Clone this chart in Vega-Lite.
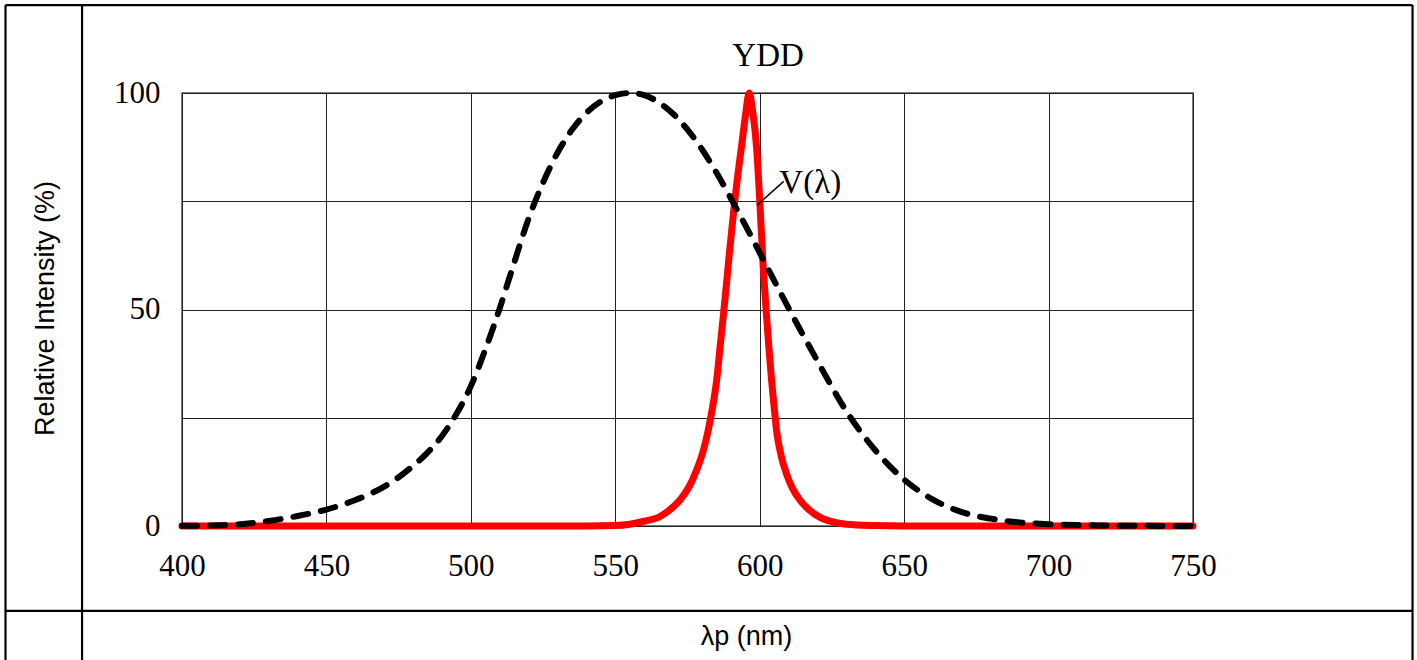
{
  "$schema": "https://vega.github.io/schema/vega-lite/v6.json",
  "autosize": {"type": "none"},
  "width": 1011,
  "height": 433,
  "padding": {"left": 182, "top": 93, "right": 224, "bottom": 134},
  "background": "white",
  "config": {
    "view": {"stroke": "#555555", "strokeWidth": 1.5},
    "axis": {"grid": true, "gridColor": "#222222", "gridOpacity": 1, "gridWidth": 1, "domain": false, "ticks": false, "tickSize": 0}
  },
  "datasets": {
    "led": [
      {"wl": 400, "value": 0}, {"wl": 450, "value": 0}, {"wl": 500, "value": 0}, {"wl": 540, "value": 0},
      {"wl": 550, "value": 0.1}, {"wl": 555, "value": 0.4}, {"wl": 560, "value": 1.1}, {"wl": 565.5, "value": 2.2},
      {"wl": 569, "value": 3.8}, {"wl": 572.4, "value": 6}, {"wl": 575.5, "value": 9}, {"wl": 578.2, "value": 13},
      {"wl": 580.3, "value": 17}, {"wl": 582.2, "value": 22.2}, {"wl": 583.7, "value": 27.5}, {"wl": 585.1, "value": 33.7},
      {"wl": 586.3, "value": 41.5}, {"wl": 587.4, "value": 48.5}, {"wl": 588.5, "value": 56}, {"wl": 589.5, "value": 63},
      {"wl": 590.5, "value": 69.5}, {"wl": 591.4, "value": 75.3}, {"wl": 592.5, "value": 81.5}, {"wl": 593.7, "value": 87.6},
      {"wl": 595, "value": 94.5}, {"wl": 596.4, "value": 100}, {"wl": 597.5, "value": 96}, {"wl": 598.9, "value": 87.6},
      {"wl": 600, "value": 75.3}, {"wl": 601.2, "value": 60}, {"wl": 602.3, "value": 49}, {"wl": 603.2, "value": 41},
      {"wl": 604.1, "value": 33.7}, {"wl": 605, "value": 27.5}, {"wl": 605.8, "value": 22.2}, {"wl": 607.5, "value": 16},
      {"wl": 609.3, "value": 12}, {"wl": 611.5, "value": 8.5}, {"wl": 613.9, "value": 6}, {"wl": 617, "value": 3.8},
      {"wl": 620.9, "value": 2}, {"wl": 625, "value": 1}, {"wl": 630, "value": 0.4}, {"wl": 640, "value": 0.1},
      {"wl": 650, "value": 0}, {"wl": 700, "value": 0}, {"wl": 750, "value": 0}
    ],
    "vlambda": [
      {"wl": 400, "value": 0.04}, {"wl": 405, "value": 0.06}, {"wl": 410, "value": 0.12}, {"wl": 415, "value": 0.22},
      {"wl": 420, "value": 0.4}, {"wl": 425, "value": 0.73}, {"wl": 430, "value": 1.16}, {"wl": 435, "value": 1.68},
      {"wl": 440, "value": 2.3}, {"wl": 445, "value": 2.98}, {"wl": 450, "value": 3.8}, {"wl": 455, "value": 4.8},
      {"wl": 460, "value": 6}, {"wl": 465, "value": 7.39}, {"wl": 470, "value": 9.1}, {"wl": 475, "value": 11.26},
      {"wl": 480, "value": 13.9}, {"wl": 485, "value": 16.93}, {"wl": 490, "value": 20.8}, {"wl": 495, "value": 25.86},
      {"wl": 500, "value": 32.3}, {"wl": 505, "value": 40.73}, {"wl": 510, "value": 50.3}, {"wl": 515, "value": 60.82},
      {"wl": 520, "value": 71}, {"wl": 525, "value": 79.32}, {"wl": 530, "value": 86.2}, {"wl": 535, "value": 91.49},
      {"wl": 540, "value": 95.4}, {"wl": 545, "value": 98.03}, {"wl": 550, "value": 99.5}, {"wl": 555, "value": 100},
      {"wl": 560, "value": 99.5}, {"wl": 565, "value": 97.86}, {"wl": 570, "value": 95.2}, {"wl": 575, "value": 91.54},
      {"wl": 580, "value": 87}, {"wl": 585, "value": 81.63}, {"wl": 590, "value": 75.7}, {"wl": 595, "value": 69.49},
      {"wl": 600, "value": 63.1}, {"wl": 605, "value": 56.68}, {"wl": 610, "value": 50.3}, {"wl": 615, "value": 44.12},
      {"wl": 620, "value": 38.1}, {"wl": 625, "value": 32.1}, {"wl": 630, "value": 26.5}, {"wl": 635, "value": 21.7},
      {"wl": 640, "value": 17.5}, {"wl": 645, "value": 13.82}, {"wl": 650, "value": 10.7}, {"wl": 655, "value": 8.16},
      {"wl": 660, "value": 6.1}, {"wl": 665, "value": 4.46}, {"wl": 670, "value": 3.2}, {"wl": 675, "value": 2.32},
      {"wl": 680, "value": 1.7}, {"wl": 685, "value": 1.19}, {"wl": 690, "value": 0.82}, {"wl": 695, "value": 0.57},
      {"wl": 700, "value": 0.41}, {"wl": 705, "value": 0.29}, {"wl": 710, "value": 0.21}, {"wl": 715, "value": 0.15},
      {"wl": 720, "value": 0.1}, {"wl": 725, "value": 0.07}, {"wl": 730, "value": 0.05}, {"wl": 735, "value": 0.04},
      {"wl": 740, "value": 0.02}, {"wl": 745, "value": 0.02}, {"wl": 750, "value": 0.01}
    ],
    "one": [{}]
  },
  "layer": [
    {
      "data": {"name": "led"},
      "mark": {"type": "line", "color": "#ff0000", "strokeWidth": 7, "interpolate": "monotone", "strokeCap": "round", "strokeJoin": "round"},
      "encoding": {
        "x": {
          "field": "wl", "type": "quantitative",
          "scale": {"domain": [400, 750], "nice": false, "zero": false},
          "axis": {
            "values": [400, 450, 500, 550, 600, 650, 700, 750],
            "labelFont": "Liberation Serif", "labelFontSize": 31, "labelColor": "black",
            "labelBaseline": "middle", "labelPadding": 40, "labelFlush": false, "labelOverlap": false,
            "title": "λp (nm)", "titleFont": "Liberation Sans", "titleFontSize": 27, "titleFontWeight": "normal",
            "titleColor": "black", "titleX": 564, "titleY": 110, "titleBaseline": "middle", "titleAlign": "center"
          }
        },
        "y": {
          "field": "value", "type": "quantitative",
          "scale": {"domain": [0, 100], "nice": false},
          "axis": {
            "values": [0, 25, 50, 75, 100],
            "labelExpr": "datum.value % 50 === 0 ? datum.label : ''",
            "labelFont": "Liberation Serif", "labelFontSize": 31, "labelColor": "black",
            "labelPadding": 22, "labelFlush": false, "labelOverlap": false, "labelBaseline": "middle",
            "title": "Relative Intensity (%)", "titleFont": "Liberation Sans", "titleFontSize": 27, "titleFontWeight": "normal",
            "titleColor": "black", "titleX": -137, "titleY": 215, "titleBaseline": "middle", "titleAlign": "center", "titleAngle": -90
          }
        }
      }
    },
    {
      "data": {"name": "vlambda"},
      "mark": {"type": "line", "color": "#000000", "strokeWidth": 6, "strokeDash": [15, 13], "strokeCap": "round", "interpolate": "monotone"},
      "encoding": {
        "x": {"field": "wl", "type": "quantitative"},
        "y": {"field": "value", "type": "quantitative"}
      }
    },
    {
      "data": {"name": "one"},
      "mark": {"type": "rule", "color": "black", "strokeWidth": 1.5},
      "encoding": {
        "x": {"datum": 599.1, "type": "quantitative"},
        "y": {"datum": 74.1, "type": "quantitative"},
        "x2": {"datum": 608.3},
        "y2": {"datum": 79.6}
      }
    },
    {
      "data": {"name": "one"},
      "mark": {"type": "text", "font": "Liberation Serif", "fontSize": 33, "align": "left", "baseline": "middle", "color": "black"},
      "encoding": {
        "x": {"datum": 606.8, "type": "quantitative"},
        "y": {"datum": 79.2, "type": "quantitative"},
        "text": {"value": "V(λ)"}
      }
    },
    {
      "data": {"name": "one"},
      "mark": {"type": "text", "font": "Liberation Serif", "fontSize": 33, "align": "center", "baseline": "middle", "color": "black"},
      "encoding": {
        "x": {"datum": 602.9, "type": "quantitative"},
        "y": {"datum": 108.5, "type": "quantitative"},
        "text": {"value": "YDD"}
      }
    },
    {
      "data": {"name": "one"},
      "mark": {"type": "rule", "color": "black", "strokeWidth": 2.2},
      "encoding": {
        "x": {"datum": 338.9, "type": "quantitative"},
        "y": {"datum": 120.3, "type": "quantitative"},
        "y2": {"datum": -35}
      }
    },
    {
      "data": {"name": "one"},
      "mark": {"type": "rule", "color": "black", "strokeWidth": 2.2},
      "encoding": {
        "x": {"datum": 365.4, "type": "quantitative"},
        "y": {"datum": 120.3, "type": "quantitative"},
        "y2": {"datum": -35}
      }
    },
    {
      "data": {"name": "one"},
      "mark": {"type": "rule", "color": "black", "strokeWidth": 2.2},
      "encoding": {
        "x": {"datum": 826.0, "type": "quantitative"},
        "y": {"datum": 120.3, "type": "quantitative"},
        "y2": {"datum": -35}
      }
    },
    {
      "data": {"name": "one"},
      "mark": {"type": "rule", "color": "black", "strokeWidth": 2.2},
      "encoding": {
        "x": {"datum": 338.9, "type": "quantitative"},
        "x2": {"datum": 826.0},
        "y": {"datum": 120.3, "type": "quantitative"}
      }
    },
    {
      "data": {"name": "one"},
      "mark": {"type": "rule", "color": "black", "strokeWidth": 2.2},
      "encoding": {
        "x": {"datum": 338.9, "type": "quantitative"},
        "x2": {"datum": 826.0},
        "y": {"datum": -19.6, "type": "quantitative"}
      }
    }
  ]
}
